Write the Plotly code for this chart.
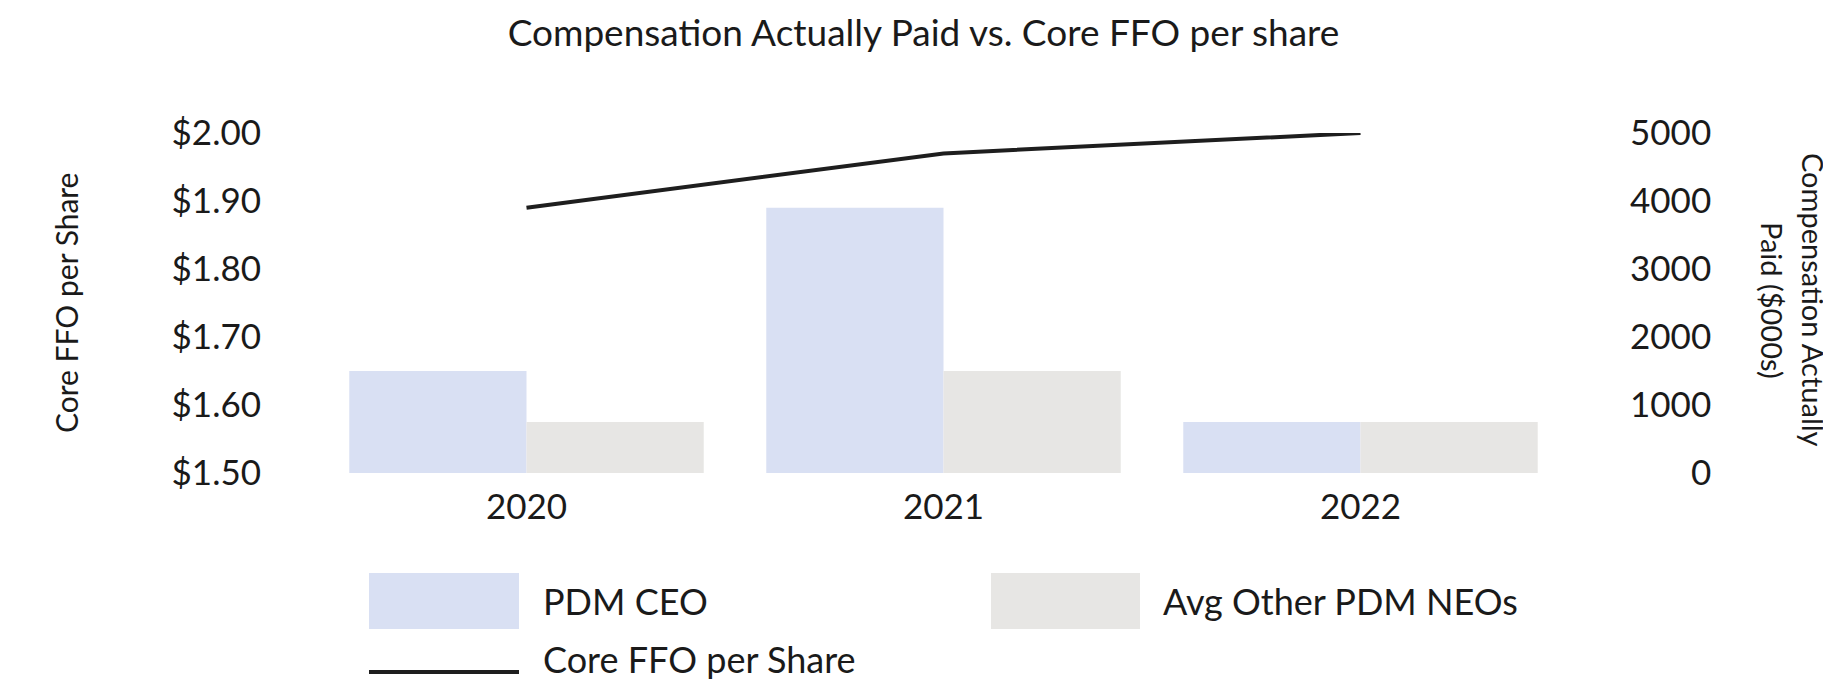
import plotly.graph_objects as go

# ---- data ----
years = ["2020", "2021", "2022"]
ceo_cap = [1500, 3900, 750]          # PDM CEO compensation actually paid ($000s)
neo_cap = [750, 1500, 750]           # Avg other PDM NEOs ($000s)
core_ffo = [1.89, 1.97, 2.00]        # Core FFO per share ($)

ffo_ticks = [1.50, 1.60, 1.70, 1.80, 1.90, 2.00]
ffo_labels = ["$1.50", "$1.60", "$1.70", "$1.80", "$1.90", "$2.00"]
cap_ticks = [0, 1000, 2000, 3000, 4000, 5000]
cap_labels = ["0", "1000", "2000", "3000", "4000", "5000"]

series_names = ["PDM CEO", "Avg Other PDM NEOs", "Core FFO per Share"]
ceo_color = "#D9E0F3"
neo_color = "#E7E6E4"
line_color = "#1E1E1E"
text_color = "#1A1A1A"
FONT = "Lato"

# ---- layout geometry (pixels) ----
W, H = 1831, 686
ML, MR, MT, MB = 310, 270, 125, 221
PW, PH = W - ML - MR, H - MT - MB


def px_x(x):
    return (x - ML) / PW


def px_y(y):
    return (H - MB - y) / PH


# pad right-axis labels with figure spaces so they appear right-aligned
maxlen = max(len(s) for s in cap_labels)
cap_labels_padded = ["\u2007" * (maxlen - len(s)) + s for s in cap_labels]

fig = go.Figure()
fig.add_trace(go.Bar(x=years, y=ceo_cap, name=series_names[0],
                     marker=dict(color=ceo_color, line=dict(width=0)),
                     yaxis="y", showlegend=False))
fig.add_trace(go.Bar(x=years, y=neo_cap, name=series_names[1],
                     marker=dict(color=neo_color, line=dict(width=0)),
                     yaxis="y", showlegend=False))
fig.add_trace(go.Scatter(x=years, y=core_ffo, name=series_names[2], mode="lines",
                         line=dict(color=line_color, width=4),
                         yaxis="y2", showlegend=False))

shapes = [
    dict(type="rect", xref="paper", yref="paper",
         x0=px_x(361), x1=px_x(511), y0=px_y(621), y1=px_y(565),
         fillcolor=ceo_color, line=dict(width=0)),
    dict(type="rect", xref="paper", yref="paper",
         x0=px_x(983), x1=px_x(1132), y0=px_y(621), y1=px_y(565),
         fillcolor=neo_color, line=dict(width=0)),
    dict(type="line", xref="paper", yref="paper",
         x0=px_x(361), x1=px_x(511), y0=px_y(664), y1=px_y(664),
         line=dict(color=line_color, width=4)),
]

LEG = 36
annotations = [
    dict(text=series_names[0], xref="paper", yref="paper", x=px_x(533), y=px_y(593),
         xanchor="left", yanchor="middle", showarrow=False,
         font=dict(family=FONT, size=LEG, color=text_color)),
    dict(text=series_names[1], xref="paper", yref="paper", x=px_x(1153), y=px_y(593),
         xanchor="left", yanchor="middle", showarrow=False,
         font=dict(family=FONT, size=LEG, color=text_color)),
    dict(text=series_names[2], xref="paper", yref="paper", x=px_x(533), y=px_y(651),
         xanchor="left", yanchor="middle", showarrow=False,
         font=dict(family=FONT, size=LEG, color=text_color)),
    # left axis title
    dict(text="Core FFO per Share", xref="paper", yref="paper", x=px_x(58), y=px_y(295),
         xanchor="center", yanchor="middle", showarrow=False, textangle=-90,
         font=dict(family=FONT, size=30, color=text_color)),
    # right axis title (two lines)
    dict(text="Compensation Actually", xref="paper", yref="paper", x=px_x(1806), y=px_y(292),
         xanchor="center", yanchor="middle", showarrow=False, textangle=90,
         font=dict(family=FONT, size=29, color=text_color)),
    dict(text="Paid ($000s)", xref="paper", yref="paper", x=px_x(1765), y=px_y(292),
         xanchor="center", yanchor="middle", showarrow=False, textangle=90,
         font=dict(family=FONT, size=29, color=text_color)),
]

fig.update_layout(
    width=W, height=H,
    margin=dict(l=ML, r=MR, t=MT, b=MB, pad=0),
    paper_bgcolor="white", plot_bgcolor="white",
    barmode="group", bargap=0.15, bargroupgap=0,
    font=dict(family=FONT, size=35, color=text_color),
    title=dict(text="Compensation Actually Paid vs. Core FFO per share",
               x=0.5, xref="container", xanchor="center",
               y=1 - 25 / H, yref="container", yanchor="middle",
               font=dict(family=FONT, size=37, color=text_color)),
    xaxis=dict(type="category", showgrid=False, showline=False, zeroline=False,
               ticks="", ticklabelstandoff=10,
               tickfont=dict(family=FONT, size=35, color=text_color)),
    yaxis=dict(side="right", range=[0, 5000], tickvals=cap_ticks, ticktext=cap_labels_padded,
               showgrid=False, showline=False, zeroline=False, ticks="",
               ticklabelstandoff=60,
               tickfont=dict(family=FONT, size=35, color=text_color)),
    yaxis2=dict(side="left", overlaying="y", range=[1.5, 2.0], tickvals=ffo_ticks,
                ticktext=ffo_labels, showgrid=False, showline=False, zeroline=False,
                ticks="", ticklabelstandoff=56,
                tickfont=dict(family=FONT, size=35, color=text_color)),
    shapes=shapes,
    annotations=annotations,
)

fig.write_html("out.html")
